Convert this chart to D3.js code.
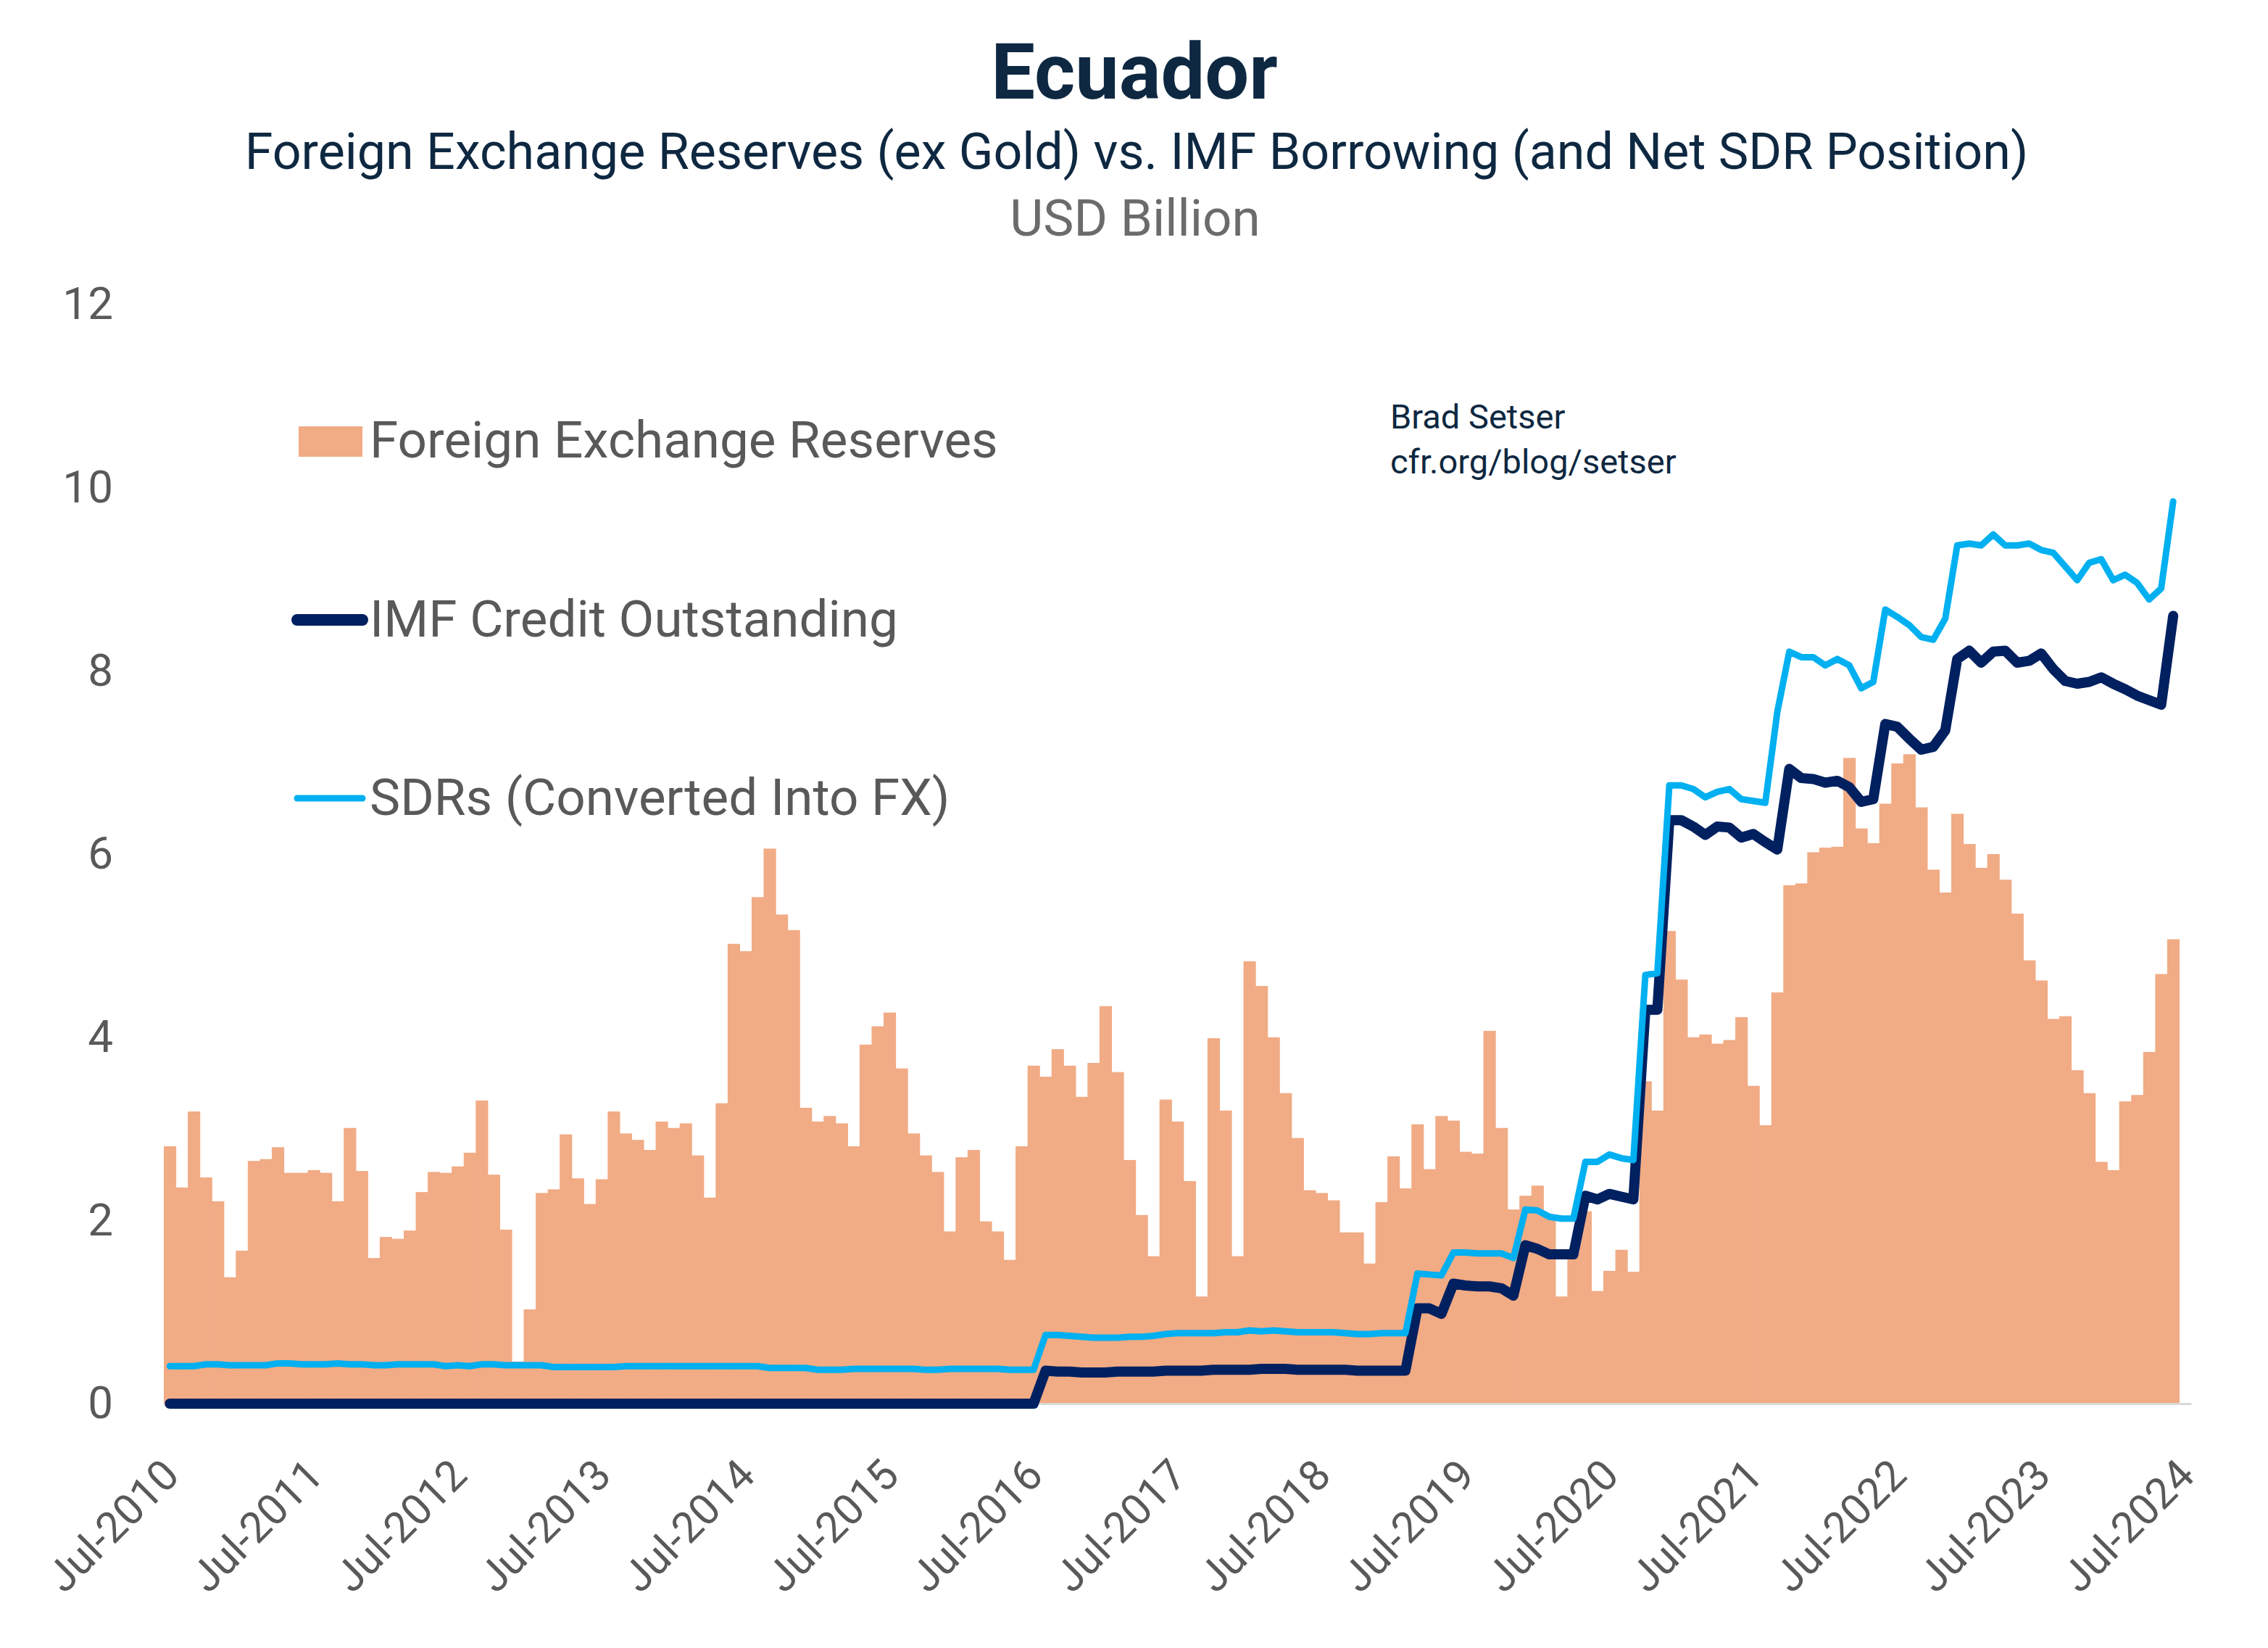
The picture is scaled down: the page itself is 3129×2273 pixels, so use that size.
<!DOCTYPE html>
<meta charset="utf-8" />
<style>
  body { margin: 0; background: #fff; }
  text { font-family: Roboto, "Open Sans", sans-serif; }
</style>
<script src="https://d3js.org/d3.v7.min.js"></script>

<svg width="3129" height="2273" id="chart"></svg>

<script>
// monthly values, Jul-2010 .. Jun-2024 (USD billion)
var reserves = [
  2.81,2.36,3.19,2.47,2.21,1.38,1.67,2.65,2.67,2.80,
  2.52,2.52,2.55,2.52,2.21,3.01,2.54,1.59,1.82,1.80,
  1.89,2.31,2.53,2.52,2.59,2.74,3.31,2.50,1.90,0.46,
  1.03,2.30,2.34,2.94,2.46,2.18,2.45,3.19,2.95,2.88,
  2.77,3.08,3.01,3.06,2.71,2.25,3.28,5.02,4.94,5.53,
  6.06,5.34,5.17,3.23,3.08,3.14,3.06,2.81,3.92,4.12,
  4.27,3.66,2.95,2.71,2.53,1.88,2.69,2.77,1.99,1.88,
  1.57,2.81,3.69,3.57,3.87,3.69,3.35,3.72,4.34,3.62,
  2.66,2.06,1.61,3.32,3.08,2.43,1.17,3.99,3.20,1.61,
  4.83,4.56,4.00,3.39,2.90,2.33,2.30,2.22,1.87,1.87,
  1.53,2.20,2.70,2.35,3.05,2.56,3.14,3.09,2.75,2.73,
  4.07,3.01,2.12,2.27,2.38,2.05,1.17,1.65,2.10,1.23,
  1.45,1.68,1.44,3.52,3.20,5.16,4.63,4.00,4.03,3.93,
  3.97,4.22,3.47,3.04,4.49,5.66,5.68,6.02,6.07,6.08,
  7.05,6.28,6.12,6.55,6.99,7.09,6.51,5.83,5.58,6.44,
  6.11,5.85,6.00,5.72,5.35,4.84,4.62,4.20,4.23,3.64,
  3.39,2.64,2.55,3.30,3.37,3.84,4.69,5.07
];

var imfCredit = [
  0,0,0,0,0,0,0,0,0,0,0,0,
  0,0,0,0,0,0,0,0,0,0,0,0,
  0,0,0,0,0,0,0,0,0,0,0,0,
  0,0,0,0,0,0,0,0,0,0,0,0,
  0,0,0,0,0,0,0,0,0,0,0,0,
  0,0,0,0,0,0,0,0,0,0,0,0,
  0,
  0.36,0.35,0.35,0.34,0.34,0.34,0.35,0.35,0.35,0.35,
  0.36,0.36,0.36,0.36,0.37,0.37,0.37,0.37,0.38,0.38,
  0.38,0.37,0.37,0.37,0.37,0.37,0.36,0.36,0.36,0.36,0.36,
  1.04,1.04,0.98,1.31,1.29,1.28,1.28,1.26,1.18,
  1.73,1.69,1.63,1.63,1.63,2.27,2.23,2.29,2.26,2.23,
  4.30,4.30,6.37,6.37,6.30,6.21,6.30,6.29,6.18,6.22,
  6.13,6.05,6.93,6.83,6.82,6.78,6.80,6.73,6.57,6.60,
  7.42,7.39,7.26,7.14,7.17,7.35,8.13,8.22,8.09,8.21,
  8.22,8.09,8.11,8.19,8.02,7.89,7.86,7.88,7.93,7.86,
  7.80,7.73,7.68,7.63,8.60
];

var sdrs = [
  0.41,0.41,0.41,0.43,0.43,0.42,0.42,0.42,0.42,0.44,
  0.44,0.43,0.43,0.43,0.44,0.43,0.43,0.42,0.42,0.43,
  0.43,0.43,0.43,0.41,0.42,0.41,0.43,0.43,0.42,0.42,
  0.42,0.42,0.40,0.40,0.40,0.40,0.40,0.40,0.41,0.41,
  0.41,0.41,
  0.41,0.41,0.41,0.41,0.41,0.41,0.41,0.41,0.39,0.39,
  0.39,0.39,0.37,0.37,0.37,0.38,0.38,0.38,0.38,0.38,
  0.38,0.37,0.37,0.38,0.38,0.38,0.38,0.38,0.37,0.37,0.37,
  0.75,0.75,0.74,0.73,0.72,0.72,0.72,0.73,0.73,0.74,
  0.76,0.77,0.77,0.77,0.77,0.78,0.78,0.80,0.79,0.80,
  0.79,0.78,0.78,0.78,0.78,0.77,0.76,0.76,0.77,0.77,0.77,
  1.42,1.41,1.40,1.65,1.65,1.64,1.64,1.64,1.59,
  2.12,2.11,2.04,2.02,2.02,2.64,2.64,2.72,2.68,2.66,
  4.68,4.70,6.75,6.75,6.71,6.62,6.68,6.71,6.60,6.58,
  6.56,7.55,8.21,8.15,8.15,8.06,8.13,8.06,7.81,7.88,
  8.67,8.59,8.50,8.37,8.34,8.57,9.37,9.39,9.37,9.49,
  9.37,9.37,9.39,9.32,9.29,9.14,8.99,9.18,9.22,8.99,
  9.05,8.96,8.78,8.90,9.85
];

var tickLabels = ["Jul-2010","Jul-2011","Jul-2012","Jul-2013","Jul-2014","Jul-2015","Jul-2016",
  "Jul-2017","Jul-2018","Jul-2019","Jul-2020","Jul-2021","Jul-2022","Jul-2023","Jul-2024"];
var yTicks = [0, 2, 4, 6, 8, 10, 12];
var legendItems = ["Foreign Exchange Reserves", "IMF Credit Outstanding", "SDRs (Converted Into FX)"];

var navy = "#002060", cyan = "#00B0F0", salmon = "#F1AB85", grey = "#595959", titleBlue = "#0E2841";

var svg = d3.select("#chart");

// 169 monthly slots (last one, Jul-2024, has no data)
var x = d3.scaleBand()
  .domain(d3.range(169))
  .range([226, 3023])
  .padding(0);
var bw = x.bandwidth();

var y = d3.scaleLinear()
  .domain([0, 12])
  .range([1936, 420]);

// titles
svg.append("text").attr("x", 1565).attr("y", 136).attr("text-anchor", "middle")
  .style("font-size", "108px").style("font-weight", "bold").style("fill", titleBlue)
  .text("Ecuador");
svg.append("text").attr("x", 1568).attr("y", 233).attr("text-anchor", "middle")
  .style("font-size", "70px").style("fill", titleBlue)
  .text("Foreign Exchange Reserves (ex Gold) vs. IMF Borrowing (and Net SDR Position)");
svg.append("text").attr("x", 1566).attr("y", 325).attr("text-anchor", "middle")
  .style("font-size", "71px").style("fill", "#6B6B6B")
  .text("USD Billion");

// bars
svg.append("g")
  .selectAll("rect")
  .data(reserves)
  .enter()
  .append("rect")
  .attr("x", function(d, i) { return x(i); })
  .attr("width", bw + 0.6)
  .attr("y", function(d) { return y(d); })
  .attr("height", function(d) { return y(0) - y(d); })
  .style("fill", salmon);

// x axis
var xAxis = svg.append("g")
  .attr("transform", "translate(0," + y(0) + ")")
  .call(d3.axisBottom(x)
    .tickValues(d3.range(0, 169, 12))
    .tickFormat(function(d) { return tickLabels[d / 12]; })
    .tickSize(0)
    .tickSizeOuter(0));
xAxis.select(".domain").attr("stroke", "#D9D9D9").attr("stroke-width", 3);
xAxis.selectAll("text")
  .attr("x", 0).attr("y", 0).attr("dy", null)
  .attr("text-anchor", "end")
  .attr("transform", "translate(16,102) rotate(-45)")
  .style("font-size", "59px")
  .style("font-family", "Roboto, sans-serif")
  .style("fill", grey);

// y axis labels
var yAxis = svg.append("g")
  .attr("transform", "translate(158,0)")
  .call(d3.axisLeft(y).tickValues(yTicks).tickSize(0).tickPadding(2));
yAxis.select(".domain").remove();
yAxis.selectAll("text")
  .style("font-size", "62px")
  .style("font-family", "Roboto, sans-serif")
  .style("fill", grey);

// lines
var line = d3.line()
  .x(function(d, i) { return x(i) + bw / 2; })
  .y(function(d) { return y(d); });

svg.append("path")
  .datum(imfCredit)
  .attr("d", line)
  .attr("fill", "none")
  .attr("stroke", navy)
  .attr("stroke-width", 14)
  .attr("stroke-linejoin", "round")
  .attr("stroke-linecap", "round");

svg.append("path")
  .datum(sdrs)
  .attr("d", line)
  .attr("fill", "none")
  .attr("stroke", cyan)
  .attr("stroke-width", 9)
  .attr("stroke-linejoin", "round")
  .attr("stroke-linecap", "round");

// legend
svg.append("rect").attr("x", 412).attr("y", 588).attr("width", 88).attr("height", 42).style("fill", salmon);
svg.append("line").attr("x1", 410).attr("x2", 500).attr("y1", 855).attr("y2", 855)
  .attr("stroke", navy).attr("stroke-width", 16).attr("stroke-linecap", "round");
svg.append("line").attr("x1", 410).attr("x2", 500).attr("y1", 1101).attr("y2", 1101)
  .attr("stroke", cyan).attr("stroke-width", 9).attr("stroke-linecap", "round");
svg.selectAll(".legtext")
  .data(legendItems)
  .enter()
  .append("text")
  .attr("class", "legtext")
  .attr("x", 510)
  .attr("y", function(d, i) { return [631, 878, 1124][i]; })
  .style("font-size", "71px")
  .style("fill", grey)
  .text(function(d) { return d; });

// source note
svg.append("text").attr("x", 1918).attr("y", 591)
  .style("font-size", "47px").style("fill", titleBlue).text("Brad Setser");
svg.append("text").attr("x", 1918).attr("y", 653)
  .style("font-size", "47px").style("fill", titleBlue).text("cfr.org/blog/setser");
</script>
